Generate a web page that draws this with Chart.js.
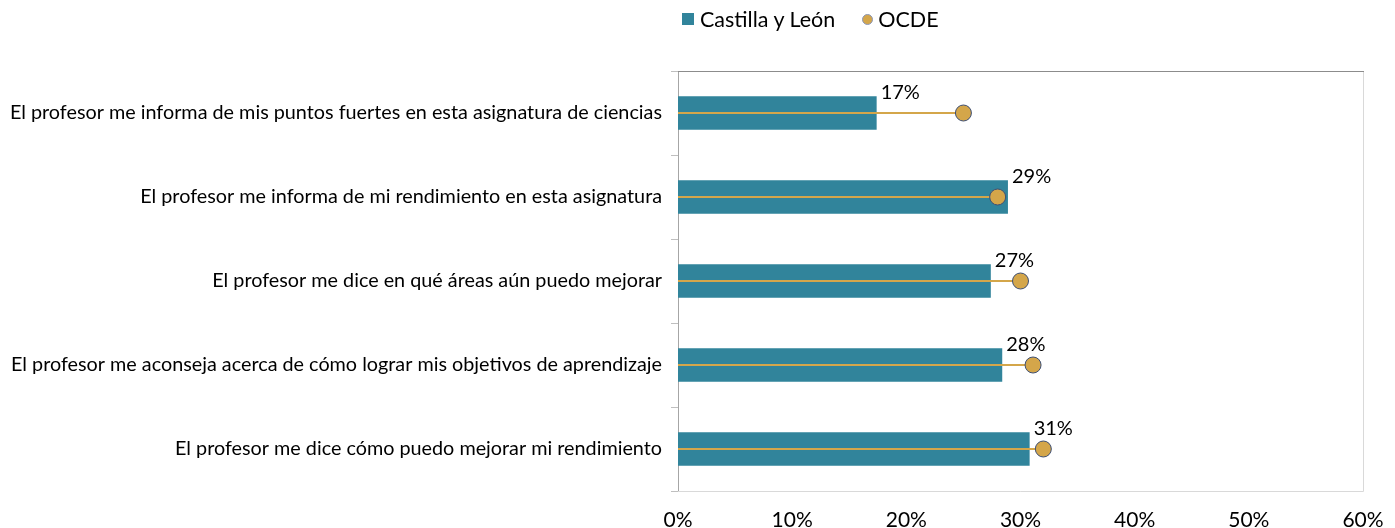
<!DOCTYPE html>
<html>
<head>
<meta charset="utf-8">
<script src="https://cdn.jsdelivr.net/npm/chart.js@4.4.0/dist/chart.umd.min.js"></script>
<style>
  html, body { margin: 0; padding: 0; background: #fff; }
  #wrap { position: relative; width: 1395px; height: 528px; }
  #legend { position: absolute; top: 6px; left: 682px; font-family: Lato, sans-serif; font-size: 21.5px; color: #000; display: flex; align-items: center; white-space: nowrap; }
  #legend .box { display: inline-block; width: 12px; height: 12px; background: #31849B; margin-right: 6px; }
  #legend .dot { display: inline-block; width: 9px; height: 9px; border-radius: 50%; background: #D4A64A; border: 1px solid #8A96B8; margin-right: 5px; margin-left: 27px; }
</style>
</head>
<body>
<div id="wrap">
  <div id="legend"><span class="box"></span>Castilla y León<span class="dot"></span>OCDE</div>
  <canvas id="chart" width="1395" height="528"></canvas>
</div>
<script>
const categories = [
  'El profesor me informa de mis puntos fuertes en esta asignatura de ciencias',
  'El profesor me informa de mi rendimiento en esta asignatura',
  'El profesor me dice en qué áreas aún puedo mejorar',
  'El profesor me aconseja acerca de cómo lograr mis objetivos de aprendizaje',
  'El profesor me dice cómo puedo mejorar mi rendimiento'
];
const castillaLeon = [17.4, 28.9, 27.4, 28.4, 30.8];
const castillaLabels = ['17%', '29%', '27%', '28%', '31%'];
const ocde = [25.0, 28.0, 30.0, 31.1, 32.0];
const xTicks = [0, 10, 20, 30, 40, 50, 60];

const font = 'Lato, sans-serif';

// frame round the plot area
const framePlugin = {
  id: 'frame',
  beforeDatasetsDraw(chart) {
    const { ctx, chartArea: a } = chart;
    ctx.save();
    ctx.lineWidth = 1;
    ctx.strokeStyle = '#D9D9D9';
    ctx.beginPath();
    ctx.moveTo(a.right + 0.5, a.top);
    ctx.lineTo(a.right + 0.5, a.bottom + 0.5);
    ctx.lineTo(a.left, a.bottom + 0.5);
    ctx.stroke();
    ctx.strokeStyle = '#8C8C8C';
    ctx.beginPath();
    ctx.moveTo(a.left, a.top + 0.5);
    ctx.lineTo(a.right + 1, a.top + 0.5);
    ctx.stroke();
    ctx.restore();
  }
};

// value labels at the end of each Castilla y León bar
const labelPlugin = {
  id: 'barLabels',
  afterDatasetsDraw(chart) {
    const { ctx } = chart;
    const meta = chart.getDatasetMeta(2);
    ctx.save();
    ctx.font = '20px ' + font;
    ctx.fillStyle = '#000';
    ctx.textAlign = 'left';
    ctx.textBaseline = 'middle';
    meta.data.forEach((bar, i) => {
      const half = bar.height / 2;
      ctx.fillText(castillaLabels[i], bar.x + 4, bar.y - half - 4);
    });
    ctx.restore();
  }
};

new Chart(document.getElementById('chart'), {
  data: {
    labels: categories,
    datasets: [
      {
        type: 'line',
        label: 'OCDE',
        data: ocde,
        showLine: false,
        pointRadius: 8,
        pointHoverRadius: 8,
        pointBackgroundColor: '#D4A64A',
        pointBorderColor: '#3D4F75',
        pointBorderWidth: 1,
        order: 0
      },
      {
        type: 'bar',
        label: 'OCDE line',
        data: ocde,
        backgroundColor: '#D4A64A',
        barThickness: 1.5,
        grouped: false,
        order: 1
      },
      {
        type: 'bar',
        label: 'Castilla y León',
        data: castillaLeon,
        backgroundColor: '#31849B',
        categoryPercentage: 1,
        barPercentage: 0.4,
        grouped: false,
        order: 2
      }
    ]
  },
  options: {
    indexAxis: 'y',
    responsive: false,
    animation: false,
    layout: { padding: { top: 71, right: 32, left: 0, bottom: 0 } },
    plugins: {
      legend: { display: false },
      tooltip: { enabled: false }
    },
    scales: {
      x: {
        min: 0,
        max: 60,
        afterBuildTicks(scale) { scale.ticks = xTicks.map(v => ({ value: v })); },
        afterFit(scale) {
          scale.height = 37;
          scale.paddingRight = 0;
          scale.paddingLeft = 0;
        },
        grid: { display: false, drawTicks: false },
        border: { display: false },
        ticks: {
          padding: 17,
          color: '#000',
          font: { family: font, size: 21 },
          callback: v => v + '%'
        }
      },
      y: {
        offset: true,
        afterFit(scale) { scale.width = 678; },
        grid: { offset: true, drawOnChartArea: false, tickLength: 7, color: '#BFBFBF' },
        border: { display: true, color: '#A6A6A6' },
        ticks: {
          padding: 9,
          color: '#000',
          font: { family: font, size: 19.8 }
        }
      }
    }
  },
  plugins: [framePlugin, labelPlugin]
});
</script>
</body>
</html>
